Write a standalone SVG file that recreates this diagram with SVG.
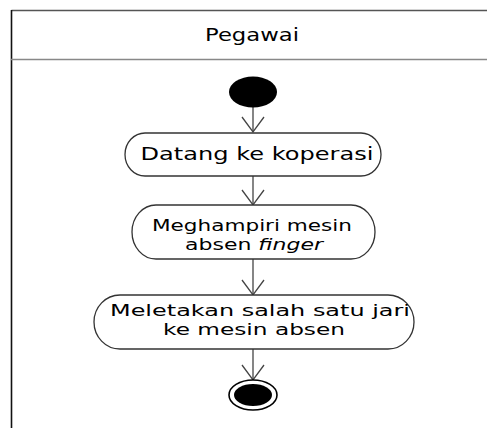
<svg xmlns="http://www.w3.org/2000/svg" width="487" height="428" viewBox="0 0 487 428">
<defs>
<style>
.t{font-family:"DejaVu Sans","Verdana",sans-serif;font-size:18px;fill:#000;text-anchor:middle}
.t2{font-size:16.5px}
.node{fill:#fff;stroke:#333;stroke-width:1.3}
.edge{stroke:#444;stroke-width:1.3;fill:none}
</style>
</defs>
<rect width="487" height="428" fill="#fff"/>
<g id="lane">
<line x1="11.5" y1="10.5" x2="487" y2="10.5" stroke="#555" stroke-width="1.5"/>
<line x1="11.5" y1="10" x2="11.5" y2="428" stroke="#111" stroke-width="1.6"/>
<line x1="11" y1="59.5" x2="487" y2="59.5" stroke="#888" stroke-width="1.6"/>
<text class="t" x="252" y="41" textLength="94" lengthAdjust="spacingAndGlyphs">Pegawai</text>
</g>
<g id="edges">
<line class="edge" x1="253" y1="107" x2="253" y2="132"/>
<polyline class="edge" points="242,117 253,132 264,117"/>
<line class="edge" x1="253" y1="176" x2="253" y2="205"/>
<polyline class="edge" points="242,190 253,205 264,190"/>
<line class="edge" x1="253" y1="259" x2="253" y2="295"/>
<polyline class="edge" points="242,280 253,295 264,280"/>
<line class="edge" x1="253" y1="349" x2="253" y2="380"/>
<polyline class="edge" points="242,365 253,380 264,365"/>
</g>
<g id="start">
<ellipse cx="253" cy="92" rx="24" ry="15.5" fill="#000"/>
</g>
<g id="n1">
<rect class="node" x="125" y="133" width="256" height="43" rx="20" ry="21.5"/>
<text class="t" x="257" y="160" textLength="233" lengthAdjust="spacingAndGlyphs">Datang ke koperasi</text>
</g>
<g id="n2">
<rect class="node" x="132" y="205" width="243" height="54" rx="24" ry="27"/>
<text class="t t2" x="252" y="231" textLength="200" lengthAdjust="spacingAndGlyphs">Meghampiri mesin</text>
<text class="t t2" x="254" y="250" textLength="138" lengthAdjust="spacingAndGlyphs">absen <tspan font-style="italic">finger</tspan></text>
</g>
<g id="n3">
<rect class="node" x="94" y="295" width="320" height="54" rx="26" ry="27"/>
<text class="t t2" x="260" y="316" textLength="300" lengthAdjust="spacingAndGlyphs">Meletakan salah satu jari</text>
<text class="t t2" x="254" y="335" textLength="182" lengthAdjust="spacingAndGlyphs">ke mesin absen</text>
</g>
<g id="end">
<ellipse cx="253" cy="395" rx="24" ry="15" fill="#fff" stroke="#000" stroke-width="1.6"/>
<ellipse cx="253" cy="395" rx="19" ry="11" fill="#000"/>
</g>
</svg>
